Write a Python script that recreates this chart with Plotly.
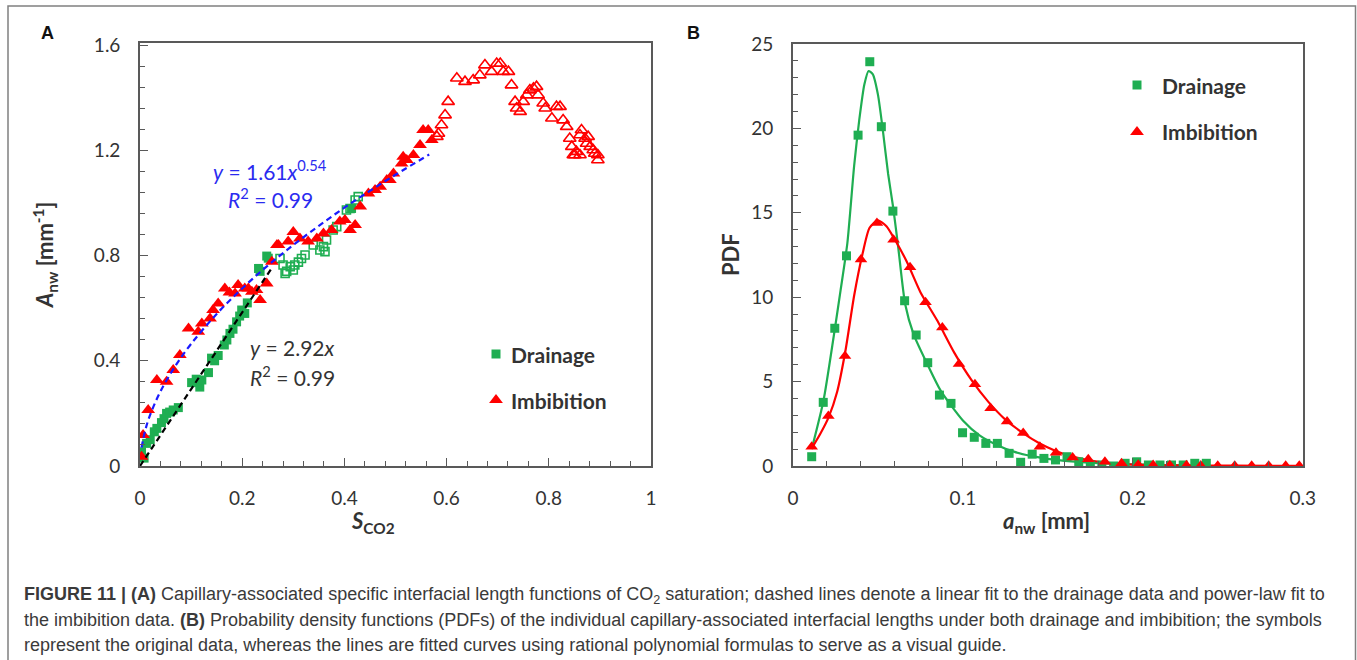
import plotly.graph_objects as go

W, H = 1357, 660

# ---------------- Panel A data ----------------
drain_fill_x = [0.003, 0.008, 0.013, 0.02, 0.028, 0.033, 0.042, 0.047, 0.052, 0.058, 0.065, 0.075,
                0.101, 0.11, 0.117, 0.121, 0.134, 0.14, 0.146, 0.153, 0.165, 0.17, 0.176, 0.182,
                0.189, 0.195, 0.199, 0.205, 0.21, 0.232, 0.235, 0.248, 0.251, 0.414]
drain_fill_y = [0.054, 0.03, 0.086, 0.1, 0.13, 0.143, 0.165, 0.18, 0.2, 0.205, 0.213, 0.222,
                0.317, 0.33, 0.30, 0.327, 0.355, 0.41, 0.40, 0.42, 0.46, 0.479, 0.504, 0.52,
                0.548, 0.57, 0.593, 0.58, 0.62, 0.751, 0.74, 0.798, 0.79, 0.979]
drain_open_x = [0.274, 0.28, 0.284, 0.287, 0.294, 0.3, 0.303, 0.31, 0.316, 0.323, 0.339, 0.352,
                0.359, 0.362, 0.365, 0.378, 0.385, 0.404, 0.411, 0.421, 0.427]
drain_open_y = [0.789, 0.764, 0.732, 0.74, 0.758, 0.745, 0.764, 0.775, 0.789, 0.802, 0.84, 0.821,
                0.834, 0.815, 0.859, 0.897, 0.91, 0.973, 0.979, 1.011, 1.024]

imb_fill_x = [0.003, 0.006, 0.016, 0.033, 0.052, 0.065, 0.078, 0.095, 0.114, 0.121, 0.137, 0.143,
              0.153, 0.166, 0.175, 0.186, 0.192, 0.205, 0.212, 0.219, 0.228, 0.235, 0.248, 0.258,
              0.268, 0.271, 0.29, 0.3, 0.313, 0.329, 0.346, 0.359, 0.375, 0.391, 0.401, 0.411,
              0.421, 0.431, 0.447, 0.46, 0.47, 0.483, 0.489, 0.496, 0.512, 0.515, 0.522, 0.535,
              0.548, 0.554, 0.564, 0.571]
imb_fill_y = [0.035, 0.118, 0.213, 0.327, 0.32, 0.365, 0.422, 0.523, 0.51, 0.542, 0.561, 0.593,
              0.618, 0.675, 0.66, 0.656, 0.688, 0.675, 0.675, 0.662, 0.669, 0.631, 0.694, 0.776,
              0.84, 0.84, 0.853, 0.89, 0.865, 0.853, 0.865, 0.884, 0.897, 0.929, 0.935, 0.897,
              0.916, 0.986, 1.036, 1.049, 1.062, 1.087, 1.087, 1.112, 1.15, 1.176, 1.163, 1.182,
              1.22, 1.277, 1.277, 1.239]
imb_open_x = [0.581, 0.584, 0.59, 0.597, 0.603, 0.62, 0.636, 0.652, 0.665, 0.675, 0.688, 0.698,
              0.705, 0.711, 0.721, 0.727, 0.734, 0.737, 0.744, 0.75, 0.757, 0.763, 0.77, 0.776,
              0.779, 0.789, 0.793, 0.806, 0.815, 0.822, 0.828, 0.835, 0.841, 0.845, 0.848, 0.851,
              0.854, 0.861, 0.861, 0.864, 0.871, 0.874, 0.877, 0.881, 0.887, 0.89, 0.896, 0.896]
imb_open_y = [1.252, 1.264, 1.296, 1.334, 1.385, 1.474, 1.461, 1.467, 1.486, 1.524, 1.499, 1.53,
              1.53, 1.499, 1.499, 1.448, 1.385, 1.36, 1.347, 1.385, 1.41, 1.429, 1.436, 1.442,
              1.41, 1.379, 1.36, 1.322, 1.366, 1.366, 1.315, 1.29, 1.245, 1.214, 1.182, 1.182,
              1.195, 1.258, 1.182, 1.277, 1.245, 1.226, 1.252, 1.214, 1.201, 1.188, 1.163, 1.182]

# fit lines
pow_fit_x = [0.003, 0.01, 0.02, 0.04, 0.07, 0.1, 0.15, 0.2, 0.25, 0.3, 0.35, 0.4, 0.45, 0.5, 0.566]
pow_fit_y = [0.070, 0.134, 0.195, 0.283, 0.383, 0.464, 0.578, 0.675, 0.762, 0.840, 0.913, 0.982,
             1.046, 1.107, 1.184]
lin_fit_x = [0.0, 0.26]
lin_fit_y = [0.0, 0.759]

# ---------------- Panel B data ----------------
pdf_d_x = [0.011, 0.0178, 0.0246, 0.0315, 0.0383, 0.0452, 0.052, 0.0588, 0.0657, 0.0725, 0.0793,
           0.0862, 0.093, 0.0998, 0.1067, 0.1135, 0.1203, 0.1272, 0.134, 0.1408, 0.1477, 0.1545,
           0.1613, 0.1682, 0.175, 0.1818, 0.1887, 0.1955, 0.2023, 0.2092, 0.216, 0.2228, 0.2297,
           0.2365, 0.2433]
pdf_d_y = [0.55, 3.77, 8.16, 12.45, 19.6, 23.95, 20.1, 15.1, 9.79, 7.76, 6.12, 4.2, 3.71, 1.97,
           1.7, 1.34, 1.34, 0.75, 0.22, 0.7, 0.45, 0.36, 0.55, 0.25, 0.06, 0.06, 0.0, 0.16, 0.25,
           0.06, 0.06, 0.06, 0.06, 0.16, 0.16]
pdf_i_x = [0.011, 0.0208, 0.0306, 0.04, 0.0494, 0.0592, 0.0689, 0.078, 0.0879, 0.0977, 0.1071,
           0.1163, 0.126, 0.1355, 0.1453, 0.1548, 0.1646, 0.1738, 0.1836, 0.1934, 0.2032, 0.212,
           0.2218, 0.2316, 0.24, 0.25, 0.26, 0.27, 0.28, 0.29, 0.298]
pdf_i_y = [1.14, 2.96, 6.52, 12.24, 14.4, 13.4, 11.77, 9.7, 8.2, 6.04, 4.84, 3.42, 2.63, 1.96,
           1.14, 0.79, 0.51, 0.4, 0.25, 0.16, 0.08, 0.06, 0.05, 0.04, 0.03, 0.02, 0.02, 0.02,
           0.02, 0.02, 0.02]

curve_d_x = [0.011, 0.018, 0.024, 0.028, 0.032, 0.036, 0.039, 0.042, 0.0445, 0.047, 0.05, 0.053,
             0.056, 0.059, 0.062, 0.066, 0.071, 0.079, 0.087, 0.1, 0.11, 0.12, 0.13, 0.14, 0.15,
             0.16, 0.18, 0.2, 0.22, 0.2433]
curve_d_y = [1.0, 3.9, 7.7, 10.4, 13.2, 17.8, 20.5, 22.6, 23.4, 23.2, 22.0, 19.8, 17.3, 15.3,
             12.9, 9.6, 7.8, 6.05, 4.45, 2.7, 1.8, 1.25, 0.85, 0.6, 0.42, 0.3, 0.17, 0.1, 0.06,
             0.04]
curve_i_x = [0.011, 0.016, 0.021, 0.026, 0.031, 0.036, 0.041, 0.045, 0.05, 0.055, 0.06, 0.067,
             0.075, 0.085, 0.095, 0.105, 0.115, 0.125, 0.135, 0.145, 0.155, 0.165, 0.18, 0.2,
             0.23, 0.26, 0.298]
curve_i_y = [1.05, 1.9, 2.9, 4.4, 6.9, 10.1, 12.6, 14.1, 14.55, 14.2, 13.4, 12.1, 10.3, 8.6,
             6.7, 5.1, 3.8, 2.75, 1.98, 1.35, 0.88, 0.55, 0.25, 0.08, 0.03, 0.02, 0.01]

# tick labels
a_xticks = [0, 0.2, 0.4, 0.6, 0.8, 1]
a_xlabels = ["0", "0.2", "0.4", "0.6", "0.8", "1"]
a_yticks = [0, 0.4, 0.8, 1.2, 1.6]
a_ylabels = ["0", "0.4", "0.8", "1.2", "1.6"]
b_xticks = [0, 0.1, 0.2, 0.3]
b_xlabels = ["0", "0.1", "0.2", "0.3"]
b_yticks = [0, 5, 10, 15, 20, 25]
b_ylabels = ["0", "5", "10", "15", "20", "25"]

GREEN = "#1fae52"
RED = "#ff0000"
BLUE = "#1a1aff"
AXC = "#595959"
TXT = "#333333"
FONT = "Lato, Carlito, 'Open Sans', sans-serif"


def PX(x):
    return x / W


def PY(y):
    return 1 - y / H


fig = go.Figure()

# Panel A traces
fig.add_trace(go.Scatter(x=drain_fill_x, y=drain_fill_y, mode="markers", xaxis="x", yaxis="y",
                         marker=dict(symbol="square", size=9, color=GREEN), showlegend=False))
fig.add_trace(go.Scatter(x=drain_open_x, y=drain_open_y, mode="markers", xaxis="x", yaxis="y",
                         marker=dict(symbol="square-open", size=8, color=GREEN,
                                     line=dict(width=1.6, color=GREEN)), showlegend=False))
fig.add_trace(go.Scatter(x=imb_fill_x, y=imb_fill_y, mode="markers", xaxis="x", yaxis="y",
                         marker=dict(symbol="triangle-up", size=12, color=RED), showlegend=False))
fig.add_trace(go.Scatter(x=imb_open_x, y=imb_open_y, mode="markers", xaxis="x", yaxis="y",
                         marker=dict(symbol="triangle-up-open", size=11, color=RED,
                                     line=dict(width=1.6, color=RED)), showlegend=False))
fig.add_trace(go.Scatter(x=pow_fit_x, y=pow_fit_y, mode="lines", xaxis="x", yaxis="y",
                         line=dict(color=BLUE, width=2.2, dash="6px,4px", shape="spline"),
                         showlegend=False))
fig.add_trace(go.Scatter(x=lin_fit_x, y=lin_fit_y, mode="lines", xaxis="x", yaxis="y",
                         line=dict(color="black", width=2.2, dash="6px,4px"), showlegend=False))

# Panel B traces
fig.add_trace(go.Scatter(x=curve_d_x, y=curve_d_y, mode="lines", xaxis="x2", yaxis="y2",
                         line=dict(color=GREEN, width=2.2, shape="spline", smoothing=0.6),
                         showlegend=False))
fig.add_trace(go.Scatter(x=curve_i_x, y=curve_i_y, mode="lines", xaxis="x2", yaxis="y2",
                         line=dict(color=RED, width=2.2, shape="spline", smoothing=0.6),
                         showlegend=False))
fig.add_trace(go.Scatter(x=pdf_d_x, y=pdf_d_y, mode="markers", xaxis="x2", yaxis="y2",
                         marker=dict(symbol="square", size=9, color=GREEN), showlegend=False))
fig.add_trace(go.Scatter(x=pdf_i_x, y=pdf_i_y, mode="markers", xaxis="x2", yaxis="y2",
                         marker=dict(symbol="triangle-up", size=11, color=RED), showlegend=False))

# legend markers (each in its own tiny hidden axis box)
legend_symbols = ["square", "triangle-up", "square", "triangle-up"]
legend_colors = [GREEN, RED, GREEN, RED]
legend_sizes = [9, 12, 9, 12]
for i, (sym, col, sz) in enumerate(zip(legend_symbols, legend_colors, legend_sizes), start=3):
    fig.add_trace(go.Scatter(x=[0.5], y=[0.5], mode="markers", xaxis=f"x{i}", yaxis=f"y{i}",
                             marker=dict(symbol=sym, size=sz, color=col), showlegend=False,
                             hoverinfo="skip"))


def axis_common(**kw):
    d = dict(showgrid=False, zeroline=False, showline=True, linecolor=AXC, linewidth=1.6,
             mirror=True, ticks="inside", tickcolor=AXC, tickwidth=1.4, ticklen=8,
             automargin=False,
             tickfont=dict(family=FONT, size=19, color=TXT), ticklabelstandoff=14)
    d.update(kw)
    return d


def small_dom(cx, cy, s=20):
    return [PX(cx - s / 2), PX(cx + s / 2)], [PY(cy + s / 2), PY(cy - s / 2)]


hidden = dict(visible=False, range=[0, 1], fixedrange=True, automargin=False)

layout_axes = {}
legend_pos = [(496, 354), (496, 400), (1137, 85), (1137, 132)]
for i, (cx, cy) in enumerate(legend_pos, start=3):
    xd, yd = small_dom(cx, cy)
    layout_axes[f"xaxis{i}"] = dict(hidden, domain=xd, anchor=f"y{i}")
    layout_axes[f"yaxis{i}"] = dict(hidden, domain=yd, anchor=f"x{i}")

fig.update_layout(
    width=W, height=H, autosize=False,
    margin=dict(l=0, r=0, t=0, b=0, pad=0, autoexpand=False),
    paper_bgcolor="white", plot_bgcolor="white",
    font=dict(family=FONT, color=TXT),
    xaxis=axis_common(domain=[PX(140), PX(651)], range=[0, 1], tickvals=a_xticks,
                      ticktext=a_xlabels, anchor="y",
                      minor=dict(ticks="inside", dtick=0.04, tick0=0, ticklen=5,
                                 tickcolor=AXC, tickwidth=1.4)),
    yaxis=axis_common(domain=[PY(466), PY(43)], range=[0, 1.608], tickvals=a_yticks,
                      ticktext=a_ylabels, anchor="x",
                      minor=dict(ticks="inside", dtick=0.08, tick0=0, ticklen=5,
                                 tickcolor=AXC, tickwidth=1.4)),
    xaxis2=axis_common(domain=[PX(793), PX(1303)], range=[0, 0.3002], tickvals=b_xticks,
                       ticktext=b_xlabels, anchor="y2",
                       minor=dict(ticks="inside", dtick=0.02, tick0=0, ticklen=5,
                                  tickcolor=AXC, tickwidth=1.4)),
    yaxis2=axis_common(domain=[PY(466), PY(44)], range=[0, 25.0], tickvals=b_yticks,
                       ticktext=b_ylabels, anchor="x2",
                       minor=dict(ticks="inside", dtick=1, tick0=0, ticklen=5,
                                  tickcolor=AXC, tickwidth=1.4)),
    **layout_axes,
)

ann = []


def txt(x, y, text, size=20, color=TXT, xanchor="center", yanchor="middle", angle=0,
        family=FONT):
    ann.append(dict(x=PX(x), y=PY(y), xref="paper", yref="paper", text=text, showarrow=False,
                    xanchor=xanchor, yanchor=yanchor, textangle=angle,
                    font=dict(family=family, size=size, color=color)))


# panel letters
txt(47, 33, "<b>A</b>", size=18, color="#111111", family="Arial, 'Liberation Sans', sans-serif")
txt(693, 33, "<b>B</b>", size=18, color="#111111", family="Arial, 'Liberation Sans', sans-serif")

# axis titles
txt(45, 255, "<b><i>A</i><sub>nw</sub> [mm<sup>-1</sup>]</b>", size=22, angle=-90)
txt(373, 522, "<b><i>S</i><sub>CO2</sub></b>", size=22)
txt(730, 255, "<b>PDF</b>", size=22, angle=-90)
txt(1046, 522, "<b><i>a</i><sub>nw</sub> [mm]</b>", size=22)

# fit equations
txt(211, 170, "<i>y</i> = 1.61<i>x</i><sup>0.54</sup>", size=21, color="#2b2bf0", xanchor="left")
txt(226, 198, "<i>R</i><sup>2</sup> = 0.99", size=21, color="#2b2bf0", xanchor="left")
txt(248, 347, "<i>y</i> = 2.92<i>x</i>", size=21, color=TXT, xanchor="left")
txt(248, 376, "<i>R</i><sup>2</sup> = 0.99", size=21, color=TXT, xanchor="left")

# legends
txt(509, 354, "<b>Drainage</b>", size=21, xanchor="left")
txt(509, 400, "<b>Imbibition</b>", size=21, xanchor="left")
txt(1160, 85, "<b>Drainage</b>", size=21, xanchor="left")
txt(1160, 132, "<b>Imbibition</b>", size=21, xanchor="left")

# caption
CAPF = "'Liberation Sans', Arial, sans-serif"
cap1 = ("<b>FIGURE 11 | (A)</b> Capillary-associated specific interfacial length functions of "
        "CO<sub>2</sub> saturation; dashed lines denote a linear fit to the drainage data and "
        "power-law fit to")
cap2 = ("the imbibition data. <b>(B)</b> Probability density functions (PDFs) of the individual "
        "capillary-associated interfacial lengths under both drainage and imbibition; the symbols")
cap3 = ("represent the original data, whereas the lines are fitted curves using rational "
        "polynomial formulas to serve as a visual guide.")
txt(22, 595, cap1, size=18, color="#3a3a3a", xanchor="left", family=CAPF)
txt(22, 620, cap2, size=18, color="#3a3a3a", xanchor="left", family=CAPF)
txt(22, 645, cap3, size=18, color="#3a3a3a", xanchor="left", family=CAPF)

fig.update_layout(annotations=ann)

# outer figure frame
fig.add_shape(type="rect", xref="paper", yref="paper", x0=PX(8), x1=PX(1355.5), y0=-0.2,
              y1=PY(6), line=dict(color="#808080", width=1.5), fillcolor="rgba(0,0,0,0)")

fig.write_html("out.html", config={"displayModeBar": False},
               post_script="document.body.style.margin='0';document.body.style.overflow='hidden';")
